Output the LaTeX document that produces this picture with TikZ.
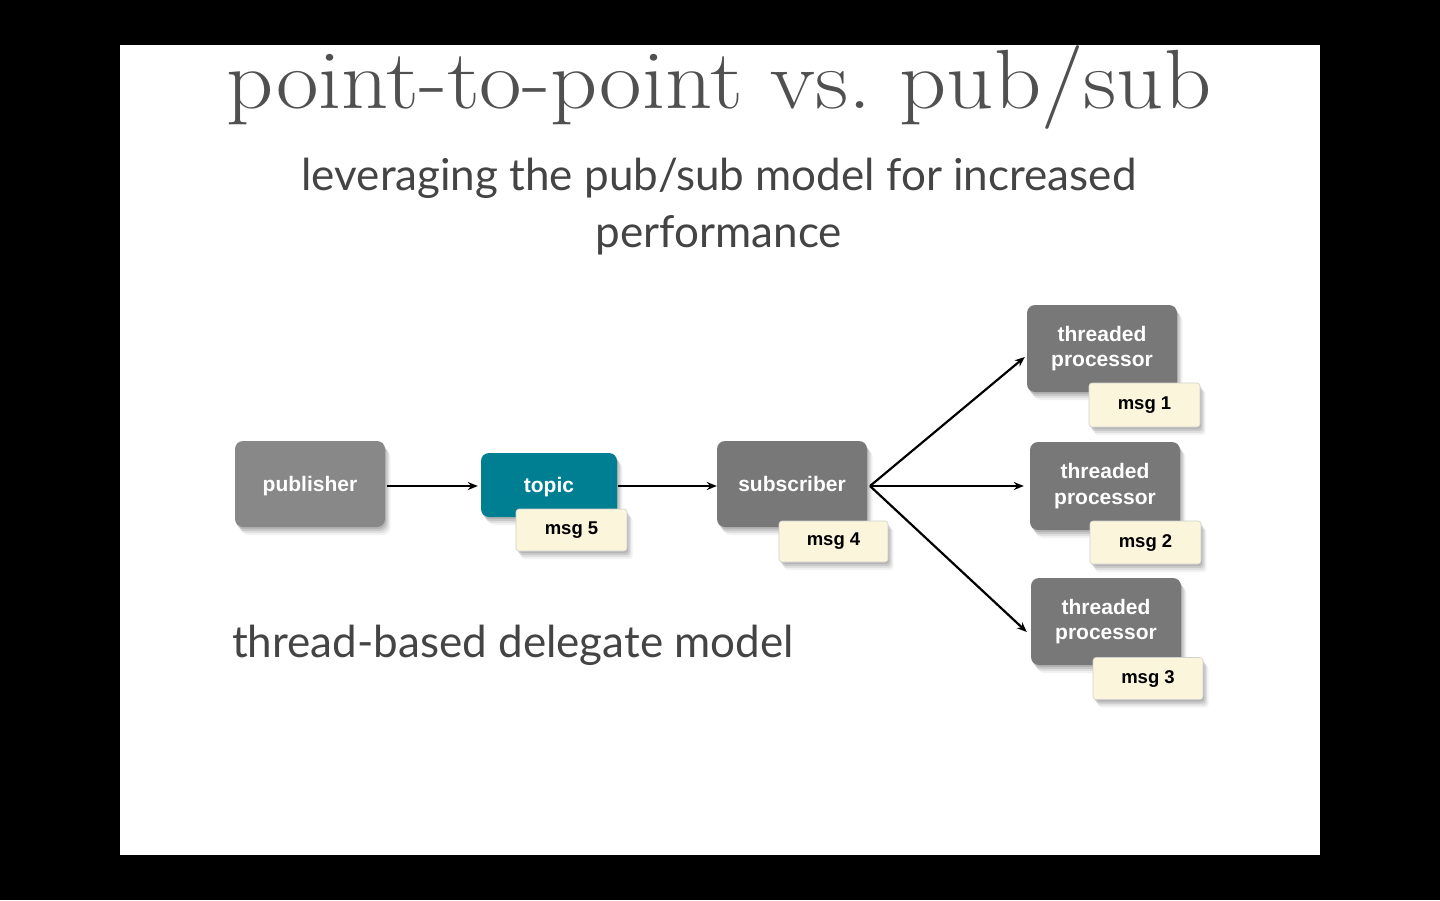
\documentclass[tikz,border=0pt]{standalone}
\usepackage{fontspec}
\newfontfamily\subfont{Lato}
\newfontfamily\boxfont{Liberation Sans}
\usetikzlibrary{shadows,arrows.meta}
\definecolor{boxgray}{HTML}{787878}
\definecolor{pubgray}{HTML}{888888}
\definecolor{teal}{HTML}{007F93}
\definecolor{msgcream}{HTML}{FBF5DC}
\definecolor{titlegray}{HTML}{505050}
\definecolor{subgray}{HTML}{444444}
\tikzset{
  shad/.style={
    general shadow={shadow xshift=1pt,shadow yshift=-2pt,opacity=0.10,fill=black},
    general shadow={shadow xshift=2.5pt,shadow yshift=-4pt,opacity=0.10,fill=black},
    general shadow={shadow xshift=4pt,shadow yshift=-6pt,opacity=0.07,fill=black},
    general shadow={shadow xshift=5.5pt,shadow yshift=-8pt,opacity=0.05,fill=black}},
  procbox/.style={shad,fill=boxgray,rounded corners=8pt,minimum width=150pt,minimum height=87pt,
    text=white,font=\boxfont\bfseries\fontsize{21}{25.5}\selectfont,align=center,inner sep=0pt},
  msgbox/.style={shad,fill=msgcream,draw=black!18,line width=0.6pt,rounded corners=3pt,minimum width=111pt,minimum height=42pt,
    text=black,font=\boxfont\bfseries\fontsize{18.5}{20}\selectfont,inner sep=0pt},
  conn/.style={-{Stealth[length=10pt,width=8pt]},line width=2.2pt,black},
  subtxt/.style={text=subgray,font=\subfont\fontsize{44}{57}\selectfont,inner sep=0pt}
}
\begin{document}
\begin{tikzpicture}[x=1pt,y=-1pt]
\fill[black] (0,0) rectangle (1440,900);
\fill[white] (120,45) rectangle (1320,855);
\useasboundingbox (0,0) rectangle (1440,900);

\node[anchor=base,text=titlegray,font=\fontsize{84}{90}\selectfont,inner sep=0pt,xscale=1.1] (title) at (719,108) {point-to-point vs.\ pub/sub};
\node[anchor=base,subtxt] (sub1) at (719,190) {leveraging the pub/sub model for increased};
\node[anchor=base,subtxt] (sub2) at (719,247) {performance};
\node[anchor=base west,subtxt] (model) at (232,657) {thread-based delegate model};

\coordinate (fan) at (870,486);

\node[procbox,fill=pubgray,minimum height=86pt,text depth=-2pt] (publisher) at (310,484) {publisher};
\node[procbox,fill=teal,minimum width=136pt,minimum height=64pt,text depth=-2pt] (topic) at (549,485) {topic};
\node[msgbox] (msg5) at (571.5,530) {msg 5};
\node[procbox,minimum height=86pt,text depth=-2pt] (subscriber) at (792,484) {subscriber};
\node[msgbox,minimum width=109pt,minimum height=41pt] (msg4) at (833.5,541.5) {msg 4};

\node[procbox] (tp1) at (1102,348.5) {\raisebox{-3pt}{threaded}\\\raisebox{-3pt}{processor}};
\node[msgbox,minimum height=44pt] (msg1) at (1144.5,405) {msg 1};
\node[procbox,minimum height=88pt] (tp2) at (1105,486) {\raisebox{-3pt}{threaded}\\\raisebox{-3pt}{processor}};
\node[msgbox,minimum height=43pt] (msg2) at (1145.5,542.5) {msg 2};
\node[procbox] (tp3) at (1106,621.5) {\raisebox{-3pt}{threaded}\\\raisebox{-3pt}{processor}};
\node[msgbox,minimum width=110pt] (msg3) at (1148,678.5) {msg 3};

\draw[conn,shorten <=2pt,shorten >=3pt] (publisher.east |- 0,486) -- (topic.west |- 0,486);
\draw[conn,shorten <=1pt] (topic.east |- 0,486) -- (subscriber.west |- 0,486);
\draw[conn] (fan) -- ([xshift=-2pt,yshift=-8.5pt]tp1.west);
\draw[conn] (fan) -- ([xshift=-6pt]tp2.west);
\draw[conn] (fan) -- ([xshift=-4pt,yshift=-10.5pt]tp3.west);
\end{tikzpicture}
\end{document}
